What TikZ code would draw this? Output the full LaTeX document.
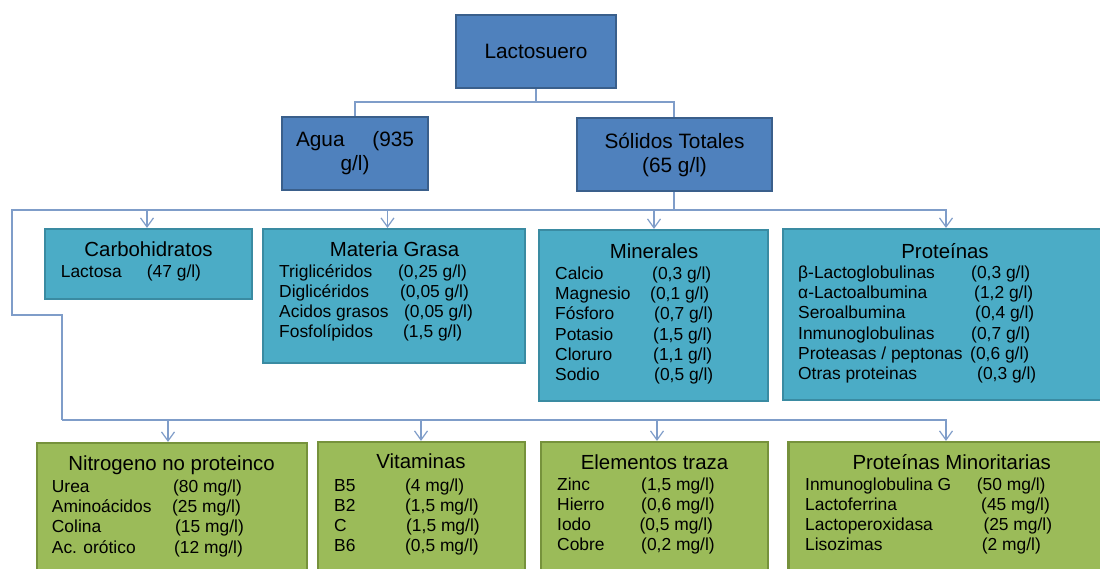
\documentclass[tikz,border=0pt]{standalone}
\usepackage{fontspec}
\setmainfont{Liberation Sans}
\usetikzlibrary{arrows.meta}
\definecolor{bfill}{HTML}{4F81BD}
\definecolor{bline}{HTML}{3A5F8B}
\definecolor{tfill}{HTML}{4BACC6}
\definecolor{tline}{HTML}{3A8BA2}
\definecolor{gfill}{HTML}{9BBB59}
\definecolor{gline}{HTML}{76923C}
\definecolor{connc}{HTML}{7F9DC9}
\tikzset{
  box/.style={line width=2.2pt, inner sep=0pt},
  bbox/.style={box, fill=bfill, draw=bline, align=center, font=\fontsize{20.8}{24}\selectfont},
  tbox/.style={box, fill=tfill, draw=tline},
  gbox/.style={box, fill=gfill, draw=gline},
  conn/.style={draw=connc, line width=1.2pt},
  arr/.style={-{Straight Barb[length=9pt,width=13pt]}},
  hdr/.style={anchor=base, inner sep=0pt, font=\fontsize{20.4}{24}\selectfont},
  itm/.style={anchor=base west, inner sep=0pt, font=\fontsize{17.4}{20}\selectfont}
}
\newcommand{\ent}[6]{\node[itm] (#1a) at (#2,#4) {#5}; \node[itm] (#1b) at (#3,#4) {#6};}
\begin{document}
\begin{tikzpicture}[x=1pt,y=-1pt]
\useasboundingbox (0,0) rectangle (1100,568);
\clip (0,0) rectangle (1100,568);
\fill[white] (0,0) rectangle (1100,568);

% top level
\node[bbox, minimum width=160pt, minimum height=73pt] (lac) at (536,51.5) {Lactosuero};
\node[bbox, minimum width=146pt, minimum height=73pt] (agua) at (355,153.5) {Agua\hspace{22pt} (935\\g/l)};
\node[bbox, minimum width=195pt, minimum height=73pt] (sol) at (674.5,154.5) {Sólidos Totales\\(65 g/l)};

% second row
\node[tbox, minimum width=207pt, minimum height=70pt] (carb) at (148.5,264) {};
\node[tbox, minimum width=262pt, minimum height=134pt] (mg) at (394,296) {};
\node[tbox, minimum width=229pt, minimum height=171pt] (min) at (653.5,315.5) {};
\node[tbox, minimum width=324pt, minimum height=171pt] (prot) at (945,314.5) {};

% third row
\node[gbox, minimum width=270pt, minimum height=157pt] (nit) at (172,521.5) {};
\node[gbox, minimum width=207pt, minimum height=158pt] (vit) at (421.5,521) {};
\node[gbox, minimum width=227pt, minimum height=158pt] (elem) at (654.5,521) {};
\node[gbox, minimum width=326pt, minimum height=158pt] (pmin) at (951.5,521) {};

% connectors
\coordinate (j0) at (536,102);
\coordinate (j1) at (674,210);
\coordinate (l1) at (12,210);
\coordinate (l2) at (12,315);
\coordinate (l3) at (62,315);
\coordinate (j2) at (62,420);
\draw[conn] (lac.south) -- (j0) -| (agua.north);
\draw[conn] (j0) -| ([xshift=-0.5pt]sol.north);
\draw[conn] ([xshift=-0.5pt]sol.south) -- (j1);
\draw[conn,arr] (j1) -| ([xshift=-1.5pt]carb.north);
\draw[conn,arr] (j1) -| ([xshift=-6.5pt]mg.north);
\draw[conn,arr] (j1) -| ([xshift=0.5pt]min.north);
\draw[conn,arr] (j1) -| ([xshift=1pt]prot.north);
\draw[conn] (j1) -- (l1) -- (l2) -- (l3) -- (j2);
\draw[conn,arr] (j2) -| ([xshift=-4pt]nit.north);
\draw[conn,arr] (j2) -| ([xshift=-0.5pt]vit.north);
\draw[conn,arr] (j2) -| ([xshift=2.5pt]elem.north);
\draw[conn,arr] (j2) -| ([xshift=-5.5pt]pmin.north);

% Carbohidratos
\node[hdr] (carbh) at (148.5,256.7) {Carbohidratos};
\ent{c1}{60.7}{146.7}{277.7}{Lactosa}{(47 g/l)}

% Materia grasa
\node[hdr] (mgh) at (394.5,256.7) {Materia Grasa};
\ent{m1}{279}{398}{277.3}{Triglicéridos}{(0,25 g/l)}
\ent{m2}{279}{400}{297.5}{Diglicéridos}{(0,05 g/l)}
\ent{m3}{279}{404}{317.7}{Acidos grasos}{(0,05 g/l)}
\ent{m4}{279}{403}{337.8}{Fosfolípidos}{(1,5 g/l)}

% Minerales
\node[hdr] (minh) at (654,258.5) {Minerales};
\ent{n1}{555}{652}{279.5}{Calcio}{(0,3 g/l)}
\ent{n2}{555}{650}{299.7}{Magnesio}{(0,1 g/l)}
\ent{n3}{555}{654}{319.9}{Fósforo}{(0,7 g/l)}
\ent{n4}{555}{653}{340.1}{Potasio}{(1,5 g/l)}
\ent{n5}{555}{653}{360.3}{Cloruro}{(1,1 g/l)}
\ent{n6}{555}{654}{380.5}{Sodio}{(0,5 g/l)}

% Proteinas
\node[hdr] (proth) at (945,258) {Proteínas};
\ent{p1}{798}{971}{278.5}{β-Lactoglobulinas}{(0,3 g/l)}
\ent{p2}{798}{974}{298.7}{α-Lactoalbumina}{(1,2 g/l)}
\ent{p3}{798}{975}{318.9}{Seroalbumina}{(0,4 g/l)}
\ent{p4}{798}{971}{339.1}{Inmunoglobulinas}{(0,7 g/l)}
\ent{p5}{798}{970}{359.3}{Proteasas / peptonas}{(0,6 g/l)}
\ent{p6}{798}{977}{379.5}{Otras proteinas}{(0,3 g/l)}

% Nitrogeno
\node[hdr] (nith) at (171.5,470) {Nitrogeno no proteinco};
\ent{a1}{51.7}{173}{492.3}{Urea}{(80 mg/l)}
\ent{a2}{51.7}{172}{512.6}{Aminoácidos}{(25 mg/l)}
\ent{a3}{51.7}{175}{532.9}{Colina}{(15 mg/l)}
\ent{a4}{51.7}{174}{553.2}{Ac. orótico}{(12 mg/l)}

% Vitaminas
\node[hdr] (vith) at (421,468.5) {Vitaminas};
\ent{v1}{334}{405}{491}{B5}{(4 mg/l)}
\ent{v2}{334}{405}{511.2}{B2}{(1,5 mg/l)}
\ent{v3}{334}{406}{531.4}{C}{(1,5 mg/l)}
\ent{v4}{334}{405}{551.6}{B6}{(0,5 mg/l)}

% Elementos traza
\node[hdr] (elemh) at (654.5,469) {Elementos traza};
\ent{e1}{557}{641}{490}{Zinc}{(1,5 mg/l)}
\ent{e2}{557}{641}{510.2}{Hierro}{(0,6 mg/l)}
\ent{e3}{557}{639.3}{530.4}{Iodo}{(0,5 mg/l)}
\ent{e4}{557}{641}{550.6}{Cobre}{(0,2 mg/l)}

% Proteinas minoritarias
\node[hdr] (pminh) at (951.7,469) {Proteínas Minoritarias};
\ent{q1}{805}{976.7}{490}{Inmunoglobulina G}{(50 mg/l)}
\ent{q2}{805}{981}{510.2}{Lactoferrina}{(45 mg/l)}
\ent{q3}{805}{983.3}{530.4}{Lactoperoxidasa}{(25 mg/l)}
\ent{q4}{805}{981.7}{550.6}{Lisozimas}{(2 mg/l)}
\end{tikzpicture}
\end{document}
